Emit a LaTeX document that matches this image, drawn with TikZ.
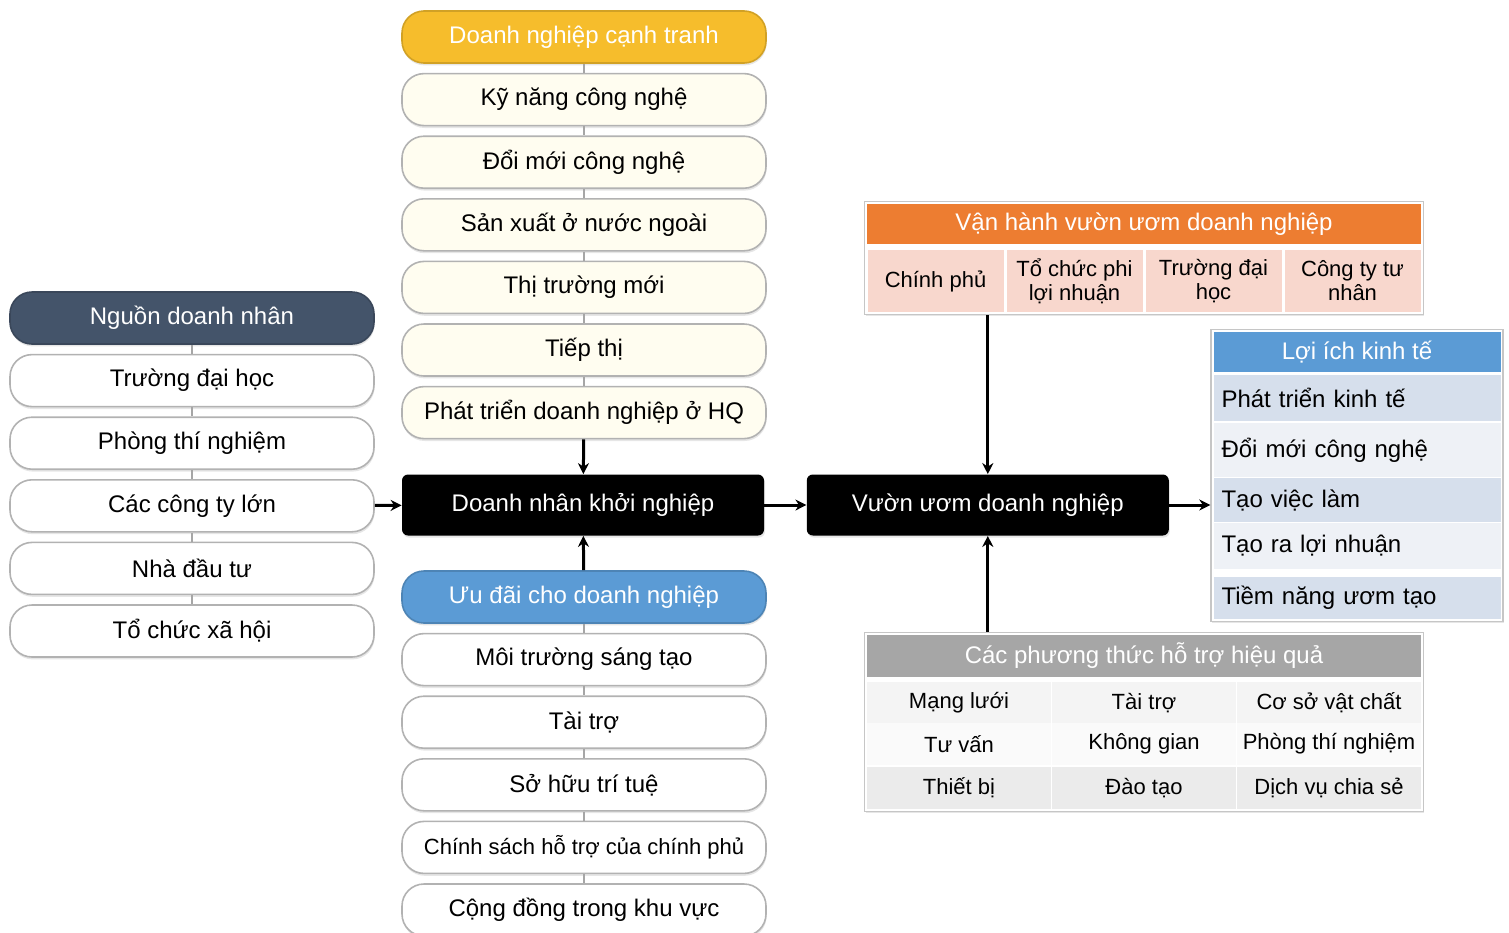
\documentclass[tikz,border=0pt]{standalone}
\usepackage{fontspec}
\setmainfont{Liberation Sans}
\usetikzlibrary{positioning,chains,fit,shadows,backgrounds}
\usetikzlibrary{arrows.meta}

\definecolor{hdslate}{HTML}{44546A}
\definecolor{hdgold}{HTML}{F6BD2C}
\definecolor{hdblue}{HTML}{5B9BD5}
\definecolor{hdorange}{HTML}{ED7D31}
\definecolor{hdgray}{HTML}{A6A6A6}
\definecolor{cellpink}{HTML}{F8D7CD}
\definecolor{cream}{HTML}{FFFDF0}
\definecolor{bandblue}{HTML}{D6DFEC}
\definecolor{bandlight}{HTML}{EEF1F6}

\begin{document}
\begin{tikzpicture}[x=0.5pt, y=-0.5pt,
            node distance = 4.5pt and 21pt,
            txt/.style = {font=\fontsize{12}{14}\selectfont},
            small/.style = {font=\fontsize{11}{12}\selectfont},
            pill/.style = {draw=gray!60, line width=0.8pt, fill=white, rounded corners=11pt,
                    minimum width=182pt, minimum height=26pt, inner sep=1pt, align=center, txt,
                    drop shadow={opacity=0.2, shadow xshift=0.3pt, shadow yshift=-1.2pt}},
            headpill/.style = {pill, fill=#1, draw=#1!85!black, text=white},
            blackbox/.style = {fill=black, rounded corners=3pt, minimum width=181pt,
                    minimum height=30.5pt, text=white, txt,
                    drop shadow={opacity=0.2, shadow xshift=0.5pt, shadow yshift=-1pt}},
            tablehead/.style = {fill=#1, text=white, minimum height=20pt, inner sep=1pt, txt},
            cell/.style = {minimum height=31pt, minimum width=68pt, inner sep=1pt, align=center, small},
            frame/.style = {draw=gray!45, line width=0.8pt, fill=white, inner sep=1pt,
                    drop shadow={opacity=0.2, shadow xshift=0.5pt, shadow yshift=-1pt}},
            link/.style = {draw=gray!70, line width=1pt},
            arr/.style = {-{Stealth[length=5.5pt, width=5.5pt]}, line width=1.5pt},
        ]
        \useasboundingbox (0,0) rectangle (1509,932);
        \clip (0,0) rectangle (1509,932);

        % Nguon doanh nhan
        \begin{scope}[start chain=L going below]
            \node[headpill=hdslate, on chain] at (192,318) {Nguồn doanh nhân};
            \node[pill, on chain] {Trường đại học};
            \node[pill, on chain] {Phòng thí nghiệm};
            \node[pill, on chain] {Các công ty lớn};
            \node[pill, on chain] {Nhà đầu tư};
            \node[pill, on chain] {Tổ chức xã hội};
        \end{scope}

        % Doanh nghiep canh tranh
        \begin{scope}[start chain=M going below]
            \node[headpill=hdgold, on chain] at (584,37) {Doanh nghiệp cạnh tranh};
            \node[pill, fill=cream, on chain] {Kỹ năng công nghệ};
            \node[pill, fill=cream, on chain] {Đổi mới công nghệ};
            \node[pill, fill=cream, on chain] {Sản xuất ở nước ngoài};
            \node[pill, fill=cream, on chain] {Thị trường mới};
            \node[pill, fill=cream, on chain] {Tiếp thị};
            \node[pill, fill=cream, on chain] {Phát triển doanh nghiệp ở HQ};
        \end{scope}

        % Uu dai
        \begin{scope}[start chain=U going below]
            \node[headpill=hdblue, on chain] at (584,597) {Ưu đãi cho doanh nghiệp};
            \node[pill, on chain] {Môi trường sáng tạo};
            \node[pill, on chain] {Tài trợ};
            \node[pill, on chain] {Sở hữu trí tuệ};
            \node[pill, small, on chain] {Chính sách hỗ trợ của chính phủ};
            \node[pill, on chain] {Cộng đồng trong khu vực};
        \end{scope}

        \node[blackbox] (dn) at (583,505) {Doanh nhân khởi nghiệp};
        \node[blackbox, right=of dn] (vu) {Vườn ươm doanh nghiệp};

        % Van hanh
        \node[tablehead=hdorange, minimum width=277pt] (vh) at (1144,224) {Vận hành vườn ươm doanh nghiệp};
        \foreach \t [count=\i] in {Chính phủ, Tổ chức phi\\lợi nhuận, Trường đại\\học, Công ty tư\\nhân}
            {
                \node[cell, fill=cellpink] (vh-\i) at ({866+139*\i-69.5},281) {\t};
            }

        % Phuong thuc ho tro
        \node[tablehead=hdgray, minimum width=277pt, minimum height=21pt] (pt) at (1144,656) {Các phương thức hỗ trợ hiệu quả};
        \foreach \a/\b/\c/\y/\f [count=\r] in {Mạng lưới/Tài trợ/Cơ sở vật chất/703/gray!9,
                Tư vấn/Không gian/Phòng thí nghiệm/744/gray!4,
                Thiết bị/Đào tạo/Dịch vụ chia sẻ/788/gray!16}
            {
                \node[cell, fill=\f, minimum width=92pt, minimum height=21pt] (pt-\r-1) at (959,\y) {\a};
                \node[cell, fill=\f, minimum width=92pt, minimum height=21pt] (pt-\r-2) at (1144,\y) {\b};
                \node[cell, fill=\f, minimum width=92pt, minimum height=21pt] (pt-\r-3) at (1329,\y) {\c};
            }

        % Loi ich kinh te
        \node[tablehead=hdblue, minimum width=143.5pt] (li) at (1357,352) {Lợi ích kinh tế};
        \foreach \t/\y/\h/\f [count=\i] in {Phát triển kinh tế/398/23/bandblue,
                Đổi mới công nghệ/450/27/bandlight,
                Tạo việc làm/500/22/bandblue,
                Tạo ra lợi nhuận/546/23/bandlight,
                Tiềm năng ươm tạo/598/21/bandblue}
            {
                \node[fill=\f, minimum width=143.5pt, minimum height=\h pt, text width=135.5pt,
                    inner xsep=4pt, inner ysep=0pt, align=left, txt] (li-\i) at (1357,\y) {\t};
            }

        \begin{scope}[on background layer]
            \node[frame, fit=(vh)(vh-1)(vh-4)] (vhbox) {};
            \node[frame, fit=(pt)(pt-1-1)(pt-3-3)] (ptbox) {};
            \node[frame, fit=(li)(li-5)] (libox) {};
        \end{scope}

        % connectors
        \foreach \i [count=\j] in {2,...,6}
            {
                \draw[link] (L-\j) -- (L-\i);
                \draw[link] (U-\j) -- (U-\i);
            }
        \foreach \i [count=\j] in {2,...,7}
            {
                \draw[link] (M-\j) -- (M-\i);
            }

        \draw[arr] (M-7) -- (dn);
        \draw[arr] (U-1) -- (dn);
        \draw[arr] (L-4) -- (dn);
        \draw[arr] (dn) -- (vu);
        \draw[arr] (vu) -- (vu -| libox.west);
        \draw[arr] (vhbox.south -| vu) -- (vu);
        \draw[arr] (ptbox.north -| vu) -- (vu);
    \end{tikzpicture}
\end{document}
